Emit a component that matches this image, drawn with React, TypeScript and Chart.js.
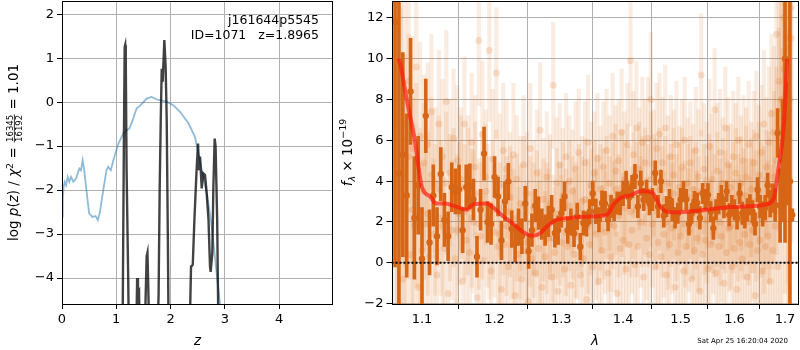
import React, { useEffect, useRef } from 'react';
import { Chart, registerables } from 'chart.js';

Chart.register(...registerables);

const FONT = '"DejaVu Sans", sans-serif';

// ---------------- Left panel: redshift fit ----------------
const Z_TICKS = [0, 1, 2, 3, 4];
const LOGP_TICKS = [-4, -3, -2, -1, 0, 1, 2];
const Z_MIN = 0;
const Z_MAX = 5;
const LOGP_MIN = -4.59;
const LOGP_MAX = 2.3;

const CHI2_Z = [0.005, 0.015, 0.03, 0.05, 0.075, 0.105, 0.135, 0.166, 0.21, 0.26, 0.29, 0.32, 0.35, 0.38, 0.41, 0.45, 0.5, 0.56, 0.62, 0.66, 0.7, 0.76, 0.82, 0.85, 0.9, 0.946, 1.04, 1.13, 1.19, 1.24, 1.29, 1.377, 1.44, 1.56, 1.65, 1.75, 1.93, 2.05, 2.175, 2.33, 2.45, 2.54, 2.67, 2.76, 2.85, 2.91, 2.96];
const CHI2_Y = [-2.61, -2.2, -1.92, -1.81, -1.89, -1.7, -1.81, -1.7, -1.81, -1.73, -1.62, -1.51, -1.55, -1.32, -1.55, -2.0, -2.53, -2.61, -2.59, -2.68, -2.5, -2.0, -1.55, -1.47, -1.55, -1.32, -0.94, -0.71, -0.64, -0.6, -0.45, -0.14, -0.08, 0.08, 0.12, 0.06, 0.01, -0.07, -0.22, -0.48, -0.79, -1.32, -2.08, -2.83, -3.89, -4.57, -5.3];

const PZ_Z = [1.1, 1.12, 1.14, 1.155, 1.165, 1.175, 1.19, 1.22, 1.24, 1.36, 1.385, 1.4, 1.42, 1.44, 1.51, 1.56, 1.575, 1.59, 1.62, 1.74, 1.78, 1.8, 1.82, 1.838, 1.856, 1.886, 1.91, 1.93, 1.95, 1.97, 2.34, 2.378, 2.41, 2.44, 2.48, 2.507, 2.525, 2.544, 2.575, 2.605, 2.636, 2.667, 2.7, 2.728, 2.74, 2.77, 2.79, 2.814, 2.83, 2.86, 2.89];
const PZ_Y = [-6, -4.6, -1.0, 1.25, 1.3, 1.0, -1.5, -4.0, -6, -6, -4.0, -4.35, -4.3, -6, -6, -3.5, -3.42, -4.2, -6, -6, -4.4, -2.0, -0.4, 0.76, 0.46, 1.41, 0.8, -0.4, -3.0, -6, -6, -3.74, -3.7, -2.68, -1.55, -0.94, -1.55, -1.24, -1.96, -1.62, -1.66, -2.08, -2.68, -3.74, -3.86, -3.44, -1.92, -0.83, -1.0, -2.68, -6];

const OBJ_NAME = 'j161644p5545';
const OBJ_INFO = 'ID=1071   z=1.8965';
const CHI2_NUM = '16345';
const CHI2_DEN = '16192';
const CHI2_RED = '1.01';

// ---------------- Right panel: spectrum ----------------
const LAMBDA_TICKS = [1.1, 1.2, 1.3, 1.4, 1.5, 1.6, 1.7];
const FLUX_TICKS = [-2, 0, 2, 4, 6, 8, 10, 12];
const LAMBDA_MIN = 1.0605;
const LAMBDA_MAX = 1.7277;
const FLUX_MIN = -2.02;
const FLUX_MAX = 12.83;
const ZERO_LEVEL = 0;

const WAVE = [
  1.065, 1.07, 1.075, 1.08, 1.085, 1.09, 1.095, 1.1, 1.105, 1.11,
  1.115, 1.12, 1.125, 1.13, 1.135, 1.14, 1.145, 1.15, 1.155, 1.16,
  1.165, 1.17, 1.175, 1.18, 1.185, 1.19, 1.195, 1.2, 1.205, 1.21,
  1.215, 1.22, 1.225, 1.23, 1.235, 1.24, 1.245, 1.25, 1.255, 1.26,
  1.265, 1.27, 1.275, 1.28, 1.285, 1.29, 1.295, 1.3, 1.305, 1.31,
  1.315, 1.32, 1.325, 1.33, 1.335, 1.34, 1.345, 1.35, 1.355, 1.36,
  1.365, 1.37, 1.375, 1.38, 1.385, 1.39, 1.395, 1.4, 1.405, 1.41,
  1.415, 1.42, 1.425, 1.43, 1.435, 1.44, 1.445, 1.45, 1.455, 1.46,
  1.465, 1.47, 1.475, 1.48, 1.485, 1.49, 1.495, 1.5, 1.505, 1.51,
  1.515, 1.52, 1.525, 1.53, 1.535, 1.54, 1.545, 1.55, 1.555, 1.56,
  1.565, 1.57, 1.575, 1.58, 1.585, 1.59, 1.595, 1.6, 1.605, 1.61,
  1.615, 1.62, 1.625, 1.63, 1.635, 1.64, 1.645, 1.65, 1.655, 1.66,
  1.665, 1.67, 1.675, 1.68, 1.685, 1.69, 1.695, 1.7, 1.705, 1.71,
  1.715,
];
const FLUX = [
  11.8, 4.4, 5.3, 3.3, 8.4, 2.2, 3.8, 0.2, 7.2, 1.0,
  3.3, 1.3, 4.35, 2.1, 1.3, 3.7, 3.5, 3.6, 1.6, 3.7,
  3.75, 3.1, 0.3, 2.6, 5.35, 2.0, 1.9, 4.2, 3.25, 1.1,
  3.0, 3.98, 1.65, 0.96, 1.75, 1.3, 2.9, 0.57, 1.6, 2.8,
  2.43, 1.9, 1.6, 2.03, 2.6, 1.46, 1.6, 2.43, 3.25, 1.6,
  2.0, 1.44, 2.27, 0.79, 1.95, 1.9, 2.5, 3.4, 2.52, 2.11,
  2.93, 2.9, 2.11, 2.76, 2.6, 2.93, 2.9, 3.4, 3.9, 3.2,
  3.74, 4.23, 2.76, 3.9, 3.1, 3.5, 2.9, 3.1, 4.4, 2.76,
  3.99, 2.3, 2.76, 3.1, 2.6, 2.2, 2.43, 3.1, 3.5, 3.1,
  1.9, 2.43, 3.0, 2.93, 2.2, 3.4, 3.1, 3.33, 2.5, 1.7,
  2.6, 2.9, 3.25, 2.7, 3.5, 2.36, 2.8, 2.6, 2.2, 3.4,
  2.43, 2.2, 2.6, 2.84, 2.5, 1.9, 3.58, 2.76, 2.4, 2.7,
  3.8, 2.9, 3.17, 2.84, 6.36, 2.8, 5.0, 10.0, 5.83, 4.0,
  2.35,
];
const FLUX_ERR = [
  12, 9, 5, 4, 2.6, 3.0, 2.4, 2.5, 1.8, 1.6,
  1.5, 1.4, 1.3, 1.3, 1.2, 1.2, 1.1, 1.2, 1.1, 1.1,
  1.1, 1.0, 1.0, 1.0, 1.3, 1.0, 1.0, 1.0, 0.95, 0.95,
  0.95, 0.9, 0.9, 0.9, 0.9, 0.85, 0.85, 0.85, 0.8, 0.8,
  0.8, 0.75, 0.75, 0.75, 0.7, 0.7, 0.7, 0.7, 0.7, 0.65,
  0.65, 0.65, 0.65, 0.65, 0.6, 0.6, 0.6, 0.6, 0.6, 0.6,
  0.6, 0.6, 0.55, 0.55, 0.55, 0.55, 0.55, 0.6, 0.6, 0.55,
  0.55, 0.6, 0.55, 0.6, 0.55, 0.55, 0.55, 0.55, 0.6, 0.55,
  0.55, 0.55, 0.5, 0.5, 0.55, 0.5, 0.5, 0.55, 0.5, 0.5,
  0.55, 0.5, 0.5, 0.5, 0.55, 0.5, 0.5, 0.55, 0.5, 0.55,
  0.5, 0.5, 0.55, 0.5, 0.5, 0.55, 0.5, 0.5, 0.55, 0.5,
  0.55, 0.5, 0.55, 0.5, 0.55, 0.55, 0.6, 0.55, 0.6, 0.6,
  0.6, 0.65, 0.7, 0.8, 1.2, 1.8, 3.0, 9.0, 3.0, 14,
  0.3,
];

const MODEL_WAVE = [1.069, 1.0713, 1.08, 1.0908, 1.0996, 1.1106, 1.1196, 1.1308, 1.1421, 1.1607, 1.1699, 1.1889, 1.1983, 1.2128, 1.2274, 1.2422, 1.2572, 1.2674, 1.2777, 1.2931, 1.3139, 1.3458, 1.373, 1.384, 1.3952, 1.412, 1.4291, 1.4493, 1.4639, 1.4757, 1.4936, 1.5299, 1.5921, 1.6436, 1.667, 1.6771, 1.6872, 1.6974, 1.7044];
const MODEL_FLUX = [10.0, 9.8, 8.0, 5.95, 3.74, 3.25, 2.9, 2.9, 2.8, 2.6, 2.87, 2.9, 2.7, 2.27, 1.9, 1.5, 1.32, 1.45, 1.78, 2.1, 2.2, 2.27, 2.35, 2.84, 3.17, 3.3, 3.5, 3.45, 2.76, 2.5, 2.47, 2.55, 2.73, 2.8, 2.9, 3.17, 4.72, 6.68, 10.0];

const FAINT_WAVE = [
  1.0675, 1.0725, 1.0775, 1.0825, 1.0875, 1.0925, 1.0975, 1.1025, 1.1075, 1.1125,
  1.1175, 1.1225, 1.1275, 1.1325, 1.1375, 1.1425, 1.1475, 1.1525, 1.1575, 1.1625,
  1.1675, 1.1725, 1.1775, 1.1825, 1.1875, 1.1925, 1.1975, 1.2025, 1.2075, 1.2125,
  1.2175, 1.2225, 1.2275, 1.2325, 1.2375, 1.2425, 1.2475, 1.2525, 1.2575, 1.2625,
  1.2675, 1.2725, 1.2775, 1.2825, 1.2875, 1.2925, 1.2975, 1.3025, 1.3075, 1.3125,
  1.3175, 1.3225, 1.3275, 1.3325, 1.3375, 1.3425, 1.3475, 1.3525, 1.3575, 1.3625,
  1.3675, 1.3725, 1.3775, 1.3825, 1.3875, 1.3925, 1.3975, 1.4025, 1.4075, 1.4125,
  1.4175, 1.4225, 1.4275, 1.4325, 1.4375, 1.4425, 1.4475, 1.4525, 1.4575, 1.4625,
  1.4675, 1.4725, 1.4775, 1.4825, 1.4875, 1.4925, 1.4975, 1.5025, 1.5075, 1.5125,
  1.5175, 1.5225, 1.5275, 1.5325, 1.5375, 1.5425, 1.5475, 1.5525, 1.5575, 1.5625,
  1.5675, 1.5725, 1.5775, 1.5825, 1.5875, 1.5925, 1.5975, 1.6025, 1.6075, 1.6125,
  1.6175, 1.6225, 1.6275, 1.6325, 1.6375, 1.6425, 1.6475, 1.6525, 1.6575, 1.6625,
  1.6675, 1.6725, 1.6775, 1.6825, 1.6875, 1.6925, 1.6975, 1.7025, 1.7075, 1.7125,
];
const FAINT_HI = [
  11.5, 9.2, 6.8, 8.9, 5.6, 9.6, 6.2, 4.9, 5.8, 7.4,
  3.9, 6.8, 5.2, 7.9, 4.4, 6.1, 5.0, 4.1, 6.8, 3.6,
  5.9, 4.7, 10.9, 6.3, 4.2, 10.4, 5.1, 9.3, 3.8, 5.5,
  4.6, 3.2, 5.3, 4.1, 2.9, 4.8, 3.4, 5.6, 2.7, 4.4,
  6.5, 3.1, 4.2, 2.6, 8.7, 3.9, 4.8, 3.3, 5.2, 4.0,
  3.5, 4.6, 5.4, 3.0, 4.9, 5.9, 3.8, 4.4, 5.1, 3.6,
  4.7, 5.5, 3.9, 6.2, 4.5, 5.0, 6.4, 4.1, 5.8, 9.9,
  5.3, 6.6, 4.6, 5.9, 4.9, 6.1, 8.0, 4.4, 5.6, 6.3,
  4.9, 6.6, 3.9, 5.2, 4.3, 5.8, 3.7, 4.7, 6.0, 3.9,
  4.9, 3.6, 5.5, 4.2, 9.2, 4.6, 3.8, 5.7, 4.1, 7.5,
  4.5, 5.4, 3.9, 6.6, 4.8, 3.7, 5.2, 4.4, 6.0, 3.9,
  5.0, 4.2, 5.8, 3.6, 4.9, 6.2, 4.3, 5.4, 6.8, 4.7,
  5.9, 7.3, 6.4, 11.2, 8.9, 13.0, 12.0, 11.0, 6.0, 12.5,
];
const FAINT_MID = [
  7.0, 4.5, 3.2, 5.2, 2.6, 3.8, 2.0, 3.5, 2.4, 4.3,
  2.1, 3.6, 1.8, 3.9, 2.7, 3.2, 1.6, 3.7, 2.5, 3.0,
  2.2, 3.4, 1.9, 2.8, 3.5, 1.7, 2.6, 3.3, 1.4, 2.7,
  1.8, 2.5, 1.1, 2.2, 1.5, 2.8, 1.0, 2.0, 1.6, 2.4,
  1.3, 2.1, 1.7, 2.9, 1.2, 2.4, 1.9, 2.6, 1.5, 2.8,
  2.2, 1.6, 2.7, 2.0, 3.1, 1.8, 2.5, 3.0, 2.1, 2.7,
  2.4, 3.2, 1.9, 2.8, 3.6, 2.3, 3.4, 2.7, 3.8, 2.5,
  3.3, 2.6, 3.9, 3.0, 3.5, 2.8, 4.1, 3.2, 2.9, 3.6,
  2.5, 3.1, 2.0, 2.8, 3.4, 2.2, 2.9, 3.3, 1.9, 2.6,
  3.2, 2.4, 2.8, 1.9, 3.5, 2.6, 2.1, 3.0, 2.7, 2.3,
  3.1, 2.0, 2.9, 2.5, 3.4, 1.8, 2.7, 3.2, 2.2, 2.9,
  2.4, 3.3, 2.0, 2.8, 3.0, 2.3, 3.5, 2.6, 2.1, 3.1,
  2.7, 3.6, 4.2, 5.0, 6.5, 8.0, 9.5, 10.5, 7.5, 11.0,
];
const FAINT_LO = [
  3.0, 1.2, -0.8, 2.6, 0.4, 1.8, -1.2, 0.6, 1.9, 0.3,
  1.4, -0.6, 2.2, 0.7, -1.5, 1.6, 0.2, 2.4, -0.9, 1.1,
  0.5, 2.0, -1.7, 1.3, 0.1, 2.3, -0.4, 1.5, 0.8, -1.3,
  0.9, -0.2, 1.7, -1.6, 0.4, -0.8, 0.6, -1.9, 0.2, -0.5,
  0.7, -1.2, 0.3, 1.2, -0.7, 0.5, -1.4, 1.0, -0.3, 0.8,
  -1.1, 0.4, 1.3, -0.6, 0.2, -1.8, 0.9, -0.2, 1.4, -0.9,
  0.6, 1.5, -0.5, 0.3, 1.8, -1.5, 0.7, 1.1, -0.3, 0.9,
  1.6, -0.1, 0.8, 2.0, -0.7, 1.2, 0.4, 1.9, -0.2, 1.0,
  0.3, 1.4, -0.6, 0.9, 1.7, -1.2, 0.5, 1.3, -0.4, 0.8,
  1.6, -0.8, 0.6, 1.2, -1.4, 0.4, 1.1, -0.3, 0.9, 1.5,
  -0.5, 0.8, 1.3, -1.0, 0.5, 1.7, -0.2, 0.7, -1.3, 1.0,
  0.2, 1.4, -0.7, 0.9, 1.6, -1.6, 0.6, 1.1, -0.4, 0.8,
  1.3, -0.9, 0.6, 1.8, -0.2, 2.5, 4.0, 6.0, 3.0, 8.0,
];
const FAINT_ERR = [
  9, 8, 7, 6, 5.5, 5, 4.6, 4.3, 4.0, 3.8,
  3.7, 3.6, 3.8, 3.5, 3.6, 3.4, 3.7, 3.5, 3.3, 3.6,
  3.4, 3.5, 3.2, 3.6, 3.3, 3.5, 3.4, 3.2, 3.5, 3.3,
  3.4, 3.2, 3.5, 3.1, 3.3, 3.4, 3.0, 3.2, 3.3, 3.1,
  3.3, 3.0, 3.2, 3.4, 3.1, 3.2, 3.0, 3.3, 3.1, 3.2,
  3.0, 3.3, 3.1, 3.2, 3.0, 3.3, 3.1, 3.0, 3.2, 3.1,
  3.2, 3.0, 3.3, 3.1, 3.2, 3.0, 3.1, 3.3, 3.0, 3.2,
  3.1, 3.3, 3.0, 3.2, 3.1, 3.0, 3.3, 3.1, 3.2, 3.0,
  3.2, 3.1, 3.3, 3.0, 3.2, 3.1, 3.0, 3.3, 3.1, 3.2,
  3.0, 3.2, 3.1, 3.3, 3.0, 3.2, 3.1, 3.3, 3.2, 3.0,
  3.3, 3.1, 3.2, 3.0, 3.3, 3.1, 3.2, 3.4, 3.1, 3.3,
  3.2, 3.4, 3.1, 3.3, 3.5, 3.2, 3.4, 3.3, 3.6, 3.4,
  3.7, 3.9, 4.2, 4.6, 5.0, 5.6, 6.5, 7.5, 8.5, 10,
];
const TIMESTAMP = 'Sat Apr 25 16:20:04 2020';

// ---------------- styling ----------------
const GRID = '#b0b0b0';
const DARK = 'rgb(214,102,22)';
const FAINT_BAR = 'rgba(217,95,2,0.12)';
const FAINT_DOT = 'rgba(217,95,2,0.17)';

const fmtNum = (v: number) => (v < 0 ? '\u2212' + Math.abs(v) : String(v));

type Seg = { t: string; size: number; italic?: boolean; dy?: number } | { num: string; den: string; size: number };

function drawRich(ctx: CanvasRenderingContext2D, cx: number, cy: number, segs: Seg[], rotate: boolean, baseSize: number) {
  ctx.save();
  ctx.translate(cx, cy);
  if (rotate) ctx.rotate(-Math.PI / 2);
  ctx.fillStyle = '#000';
  ctx.textBaseline = 'alphabetic';
  ctx.textAlign = 'left';
  const widths = segs.map((s) => {
    if ('num' in s) {
      ctx.font = `${s.size}px ${FONT}`;
      return Math.max(ctx.measureText(s.num).width, ctx.measureText(s.den).width) + 2;
    }
    ctx.font = `${s.italic ? 'italic ' : ''}${s.size}px ${FONT}`;
    return ctx.measureText(s.t).width;
  });
  const total = widths.reduce((a, b) => a + b, 0);
  let x = -total / 2;
  const base = baseSize * 0.36;
  segs.forEach((s, i) => {
    if ('num' in s) {
      ctx.font = `${s.size}px ${FONT}`;
      const w = widths[i];
      const barY = base - baseSize * 0.3;
      ctx.textAlign = 'center';
      ctx.fillText(s.num, x + w / 2, barY - 1.2);
      ctx.fillText(s.den, x + w / 2, barY + 1.2 + s.size * 0.73);
      ctx.fillRect(x + 0.5, barY - 0.4, w - 1, 0.8);
      ctx.textAlign = 'left';
    } else {
      ctx.font = `${s.italic ? 'italic ' : ''}${s.size}px ${FONT}`;
      ctx.fillText(s.t, x, base + (s.dy || 0));
    }
    x += widths[i];
  });
  ctx.restore();
}

function framePlugin(id: string) {
  return {
    id,
    afterDatasetsDraw(chart: any) {
      const { ctx, chartArea: a } = chart;
      ctx.save();
      ctx.strokeStyle = '#000';
      ctx.lineWidth = 1;
      const l = Math.round(a.left) + 0.5;
      const t = Math.round(a.top) + 0.5;
      const r = Math.round(a.right) - 0.5;
      const b = Math.round(a.bottom) + 0.5;
      ctx.strokeRect(l, t, r - l, b - t);
      ctx.restore();
    },
  };
}

function axisCommon(ticks: number[], labelFmt: (v: number) => string) {
  return {
    afterBuildTicks: (s: any) => {
      s.ticks = ticks.map((v) => ({ value: v }));
    },
    grid: { color: GRID, lineWidth: 1, drawTicks: true, tickLength: 5, tickColor: '#000', tickWidth: 1 },
    border: { display: false },
    ticks: {
      font: { family: FONT, size: 13 },
      color: '#000',
      autoSkip: false,
      maxRotation: 0,
      callback: (v: any) => labelFmt(Number(v)),
    },
  };
}

function leftConfig(): any {
  const textPlugin = {
    id: 'leftText',
    afterDraw(chart: any) {
      const { ctx, chartArea: a } = chart;
      ctx.save();
      ctx.fillStyle = '#000';
      ctx.font = `12.5px ${FONT}`;
      ctx.textAlign = 'right';
      ctx.textBaseline = 'alphabetic';
      ctx.fillText(OBJ_NAME, 319, 24);
      ctx.fillText(OBJ_INFO, 319, 39);
      ctx.font = `italic 13.5px ${FONT}`;
      ctx.textAlign = 'center';
      ctx.fillText('z', (a.left + a.right) / 2, 345);
      ctx.restore();
      drawRich(
        ctx,
        13.5,
        (a.top + a.bottom) / 2,
        [
          { t: 'log ', size: 13.5 },
          { t: 'p', size: 13.5, italic: true },
          { t: '(', size: 13.5 },
          { t: 'z', size: 13.5, italic: true },
          { t: ') / ', size: 13.5 },
          { t: 'χ', size: 13.5, italic: true },
          { t: '2', size: 9.5, dy: -5.5 },
          { t: ' = ', size: 13.5 },
          { num: CHI2_NUM, den: CHI2_DEN, size: 8.5 },
          { t: ' = ' + CHI2_RED, size: 13.5 },
        ],
        true,
        13.5,
      );
    },
  };
  return {
    type: 'scatter',
    data: {
      datasets: [
        {
          type: 'line',
          showLine: true,
          data: PZ_Z.map((z, i) => ({ x: z, y: PZ_Y[i] })),
          borderColor: 'rgba(0,0,0,0.74)',
          borderWidth: 2.4,
          pointRadius: 0,
          tension: 0,
          order: 1,
        },
        {
          type: 'line',
          showLine: true,
          data: CHI2_Z.map((z, i) => ({ x: z, y: CHI2_Y[i] })),
          borderColor: 'rgba(31,119,180,0.5)',
          borderWidth: 1.8,
          pointRadius: 0,
          tension: 0,
          order: 2,
        },
      ],
    },
    options: {
      animation: false,
      responsive: false,
      devicePixelRatio: 1,
      events: [],
      layout: { padding: { left: 0, right: 6.7, top: 1, bottom: 0 }, autoPadding: false },
      plugins: { legend: { display: false }, tooltip: { enabled: false } },
      scales: {
        x: {
          type: 'linear',
          min: Z_MIN,
          max: Z_MAX,
          ...axisCommon(Z_TICKS, (v) => fmtNum(v)),
          afterFit: (s: any) => {
            s.height = 46;
            s.paddingLeft = 0; s.paddingRight = 0; s.paddingTop = 0; s.paddingBottom = 0;
          },
        },
        y: {
          type: 'linear',
          min: LOGP_MIN,
          max: LOGP_MAX,
          ...axisCommon(LOGP_TICKS, (v) => fmtNum(v)),
          afterFit: (s: any) => {
            s.width = 62;
            s.paddingLeft = 0; s.paddingRight = 0; s.paddingTop = 0; s.paddingBottom = 0;
          },
        },
      },
    },
    plugins: [framePlugin('leftFrame'), textPlugin],
  };
}

function rightConfig(): any {
  const faintBars = (wave: number[], ys: number[]) => ({
    type: 'bar',
    data: ys.map((y, i) => ({ x: wave[i], y: [y - FAINT_ERR[i], y + FAINT_ERR[i]] })),
    backgroundColor: FAINT_BAR,
    borderWidth: 0,
    barThickness: 3.5,
    grouped: false,
    order: 10,
  });
  const faintDots = (wave: number[], ys: number[]) => ({
    type: 'scatter',
    data: ys.map((y, i) => ({ x: wave[i], y })),
    backgroundColor: FAINT_DOT,
    borderWidth: 0,
    pointRadius: 3.5,
    order: 9,
  });
  const textPlugin = {
    id: 'rightText',
    afterDraw(chart: any) {
      const { ctx, chartArea: a } = chart;
      ctx.save();
      ctx.fillStyle = '#000';
      ctx.font = `italic 13.5px ${FONT}`;
      ctx.textAlign = 'center';
      ctx.textBaseline = 'alphabetic';
      ctx.fillText('λ', (a.left + a.right) / 2, 345);
      ctx.font = `7px ${FONT}`;
      ctx.textAlign = 'right';
      ctx.fillText(TIMESTAMP, 468, 343);
      ctx.restore();
      drawRich(
        ctx,
        27,
        (a.top + a.bottom) / 2,
        [
          { t: 'f', size: 13.5, italic: true },
          { t: 'λ', size: 9.5, italic: true, dy: 3 },
          { t: ' × 10', size: 13.5 },
          { t: '\u221219', size: 9.5, dy: -5.5 },
        ],
        true,
        13.5,
      );
    },
  };
  return {
    type: 'scatter',
    data: {
      datasets: [
        {
          type: 'line',
          showLine: true,
          data: [
            { x: LAMBDA_MIN, y: ZERO_LEVEL },
            { x: LAMBDA_MAX, y: ZERO_LEVEL },
          ],
          borderColor: '#000',
          borderWidth: 2,
          borderDash: [2, 2],
          pointRadius: 0,
          order: 1,
        },
        {
          type: 'line',
          showLine: true,
          data: MODEL_WAVE.map((w, i) => ({ x: w, y: MODEL_FLUX[i] })),
          borderColor: 'rgba(255,20,10,0.65)',
          borderWidth: 4,
          pointRadius: 0,
          cubicInterpolationMode: 'monotone',
          order: 2,
        },
        {
          type: 'scatter',
          data: WAVE.map((w, i) => ({ x: w, y: FLUX[i] })),
          backgroundColor: DARK,
          borderWidth: 0,
          pointRadius: 3.2,
          order: 3,
        },
        {
          type: 'bar',
          data: WAVE.map((w, i) => ({ x: w, y: [FLUX[i] - FLUX_ERR[i], FLUX[i] + FLUX_ERR[i]] })),
          backgroundColor: DARK,
          borderWidth: 0,
          barThickness: 3,
          grouped: false,
          order: 4,
        },
        faintDots(FAINT_WAVE, FAINT_HI),
        faintDots(FAINT_WAVE, FAINT_MID),
        faintDots(WAVE, FAINT_LO),
        faintBars(FAINT_WAVE, FAINT_HI),
        faintBars(FAINT_WAVE, FAINT_MID),
        faintBars(WAVE, FAINT_LO),
      ],
    },
    options: {
      animation: false,
      responsive: false,
      devicePixelRatio: 1,
      events: [],
      layout: { padding: { left: 0, right: 1.5, top: 1, bottom: 0 }, autoPadding: false },
      plugins: { legend: { display: false }, tooltip: { enabled: false } },
      scales: {
        x: {
          type: 'logarithmic',
          min: LAMBDA_MIN,
          max: LAMBDA_MAX,
          offset: false,
          ...axisCommon(LAMBDA_TICKS, (v) => v.toFixed(1)),
          afterFit: (s: any) => {
            s.height = 46;
            s.paddingLeft = 0; s.paddingRight = 0; s.paddingTop = 0; s.paddingBottom = 0;
          },
        },
        y: {
          type: 'linear',
          min: FLUX_MIN,
          max: FLUX_MAX,
          ...axisCommon(FLUX_TICKS, (v) => fmtNum(v)),
          afterFit: (s: any) => {
            s.width = 71.5;
            s.paddingLeft = 0; s.paddingRight = 0; s.paddingTop = 0; s.paddingBottom = 0;
          },
        },
      },
    },
    plugins: [framePlugin('rightFrame'), textPlugin],
  };
}

export default function App() {
  const leftRef = useRef<HTMLCanvasElement>(null);
  const rightRef = useRef<HTMLCanvasElement>(null);
  useEffect(() => {
    const left = new Chart(leftRef.current as HTMLCanvasElement, leftConfig());
    const right = new Chart(rightRef.current as HTMLCanvasElement, rightConfig());
    return () => {
      left.destroy();
      right.destroy();
    };
  }, []);
  return (
    <div style={{ position: 'absolute', left: 0, top: 0, width: 800, height: 350, background: '#fff' }}>
      <canvas ref={leftRef} width={340} height={350} style={{ position: 'absolute', left: 0, top: 0 }} />
      <canvas ref={rightRef} width={480} height={350} style={{ position: 'absolute', left: 320, top: 0 }} />
    </div>
  );
}
